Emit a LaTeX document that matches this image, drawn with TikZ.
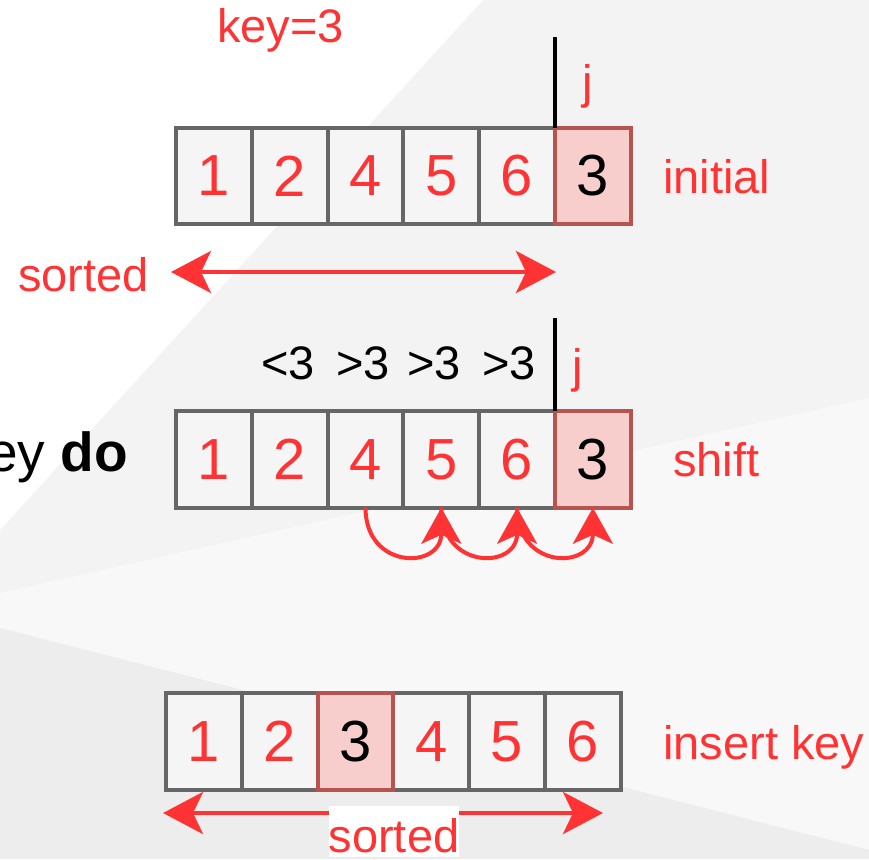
\documentclass[tikz,border=0pt]{standalone}
\usepackage{fontspec}
\setmainfont{Liberation Sans}
\usetikzlibrary{arrows.meta}

\definecolor{hred}{HTML}{FF3333}
\definecolor{cellgray}{HTML}{666666}
\definecolor{cellfill}{HTML}{F5F5F5}
\definecolor{keyfill}{HTML}{F8CECC}
\definecolor{keyline}{HTML}{B85450}
\definecolor{bgbase}{HTML}{F3F3F3}
\definecolor{bglight}{HTML}{F8F8F8}
\definecolor{bgdark}{HTML}{EDEDED}

\tikzset{
  cell/.style={draw=cellgray, fill=cellfill, line width=4pt,
    minimum width=75.8pt, minimum height=96.5pt, inner sep=0pt,
    outer sep=0pt, text=hred, font=\fontsize{58}{60}\selectfont},
  keycell/.style={cell, draw=keyline, fill=keyfill, text=black},
  lbl/.style={text=hred, inner sep=0pt, font=\fontsize{47}{50}\selectfont},
  cmp/.style={lbl, text=black},
  jline/.style={draw=black, line width=3.5pt},
  sortarrow/.style={draw=hred, line width=4pt,
    {Stealth[length=40pt,width=42pt,inset=10pt]}-{Stealth[length=40pt,width=42pt,inset=10pt]}},
  shiftarrow/.style={draw=hred, line width=4pt,
    -{Stealth[length=36pt,width=40pt,inset=9pt]}}
}

\begin{document}
\begin{tikzpicture}
  \useasboundingbox (0pt,0pt) rectangle (869pt,-859pt);
  \clip (0pt,0pt) rectangle (869pt,-859pt);

  %% background
  \fill[bgbase] (0pt,0pt) rectangle (869pt,-859pt);
  \fill[white] (0pt,0pt) -- (483pt,0pt) -- (0pt,-530pt) -- cycle;
  \fill[bglight] (0pt,-593pt) -- (869pt,-398pt) -- (869pt,-850pt) -- (0pt,-628pt) -- cycle;
  \fill[bgdark] (0pt,-628pt) -- (869pt,-850pt) -- (869pt,-859pt) -- (0pt,-859pt) -- cycle;

  \node[lbl, anchor=base west] (key) at (217pt,-43pt) {key=3};
  \node[cmp, anchor=base east, font=\fontsize{55}{58}\selectfont] (loop) at (128pt,-471pt) {ey \textbf{do}};

  %% initial
  \begin{scope}[shift={(176pt,-176pt)}]
    \node[cell] (a1) at (37.9pt,0pt) {1};
    \node[cell] (a2) at (113.7pt,0pt) {2};
    \node[cell] (a3) at (189.5pt,0pt) {4};
    \node[cell] (a4) at (265.3pt,0pt) {5};
    \node[cell] (a5) at (341.1pt,0pt) {6};
    \node[keycell] (a6) at (416.9pt,0pt) {3};
  \end{scope}
  \coordinate (jtop1) at ([yshift=91pt]a5.north east);
  \draw[jline] (jtop1) -- (a5.north east);
  \node[lbl, anchor=base] (j1) at (588pt,-98pt) {j};
  \node[lbl, anchor=base west] (initial) at (663pt,-193pt) {initial};
  \coordinate (sl1) at (171pt,-272pt);
  \coordinate (sr1) at (556pt,-272pt);
  \draw[sortarrow] (sl1) -- (sr1);
  \node[lbl, fill=white, anchor=base west] (sorted1) at (18pt,-291pt) {sorted};

  %% shift
  \begin{scope}[shift={(176pt,-459.5pt)}]
    \node[cell] (b1) at (37.9pt,0pt) {1};
    \node[cell] (b2) at (113.7pt,0pt) {2};
    \node[cell] (b3) at (189.5pt,0pt) {4};
    \node[cell] (b4) at (265.3pt,0pt) {5};
    \node[cell] (b5) at (341.1pt,0pt) {6};
    \node[keycell] (b6) at (416.9pt,0pt) {3};
  \end{scope}
  \node[cmp, anchor=base] (lt2) at (288pt,-379pt) {<3};
  \node[cmp, anchor=base] (gt3) at (363pt,-379pt) {>3};
  \node[cmp, anchor=base] (gt4) at (434pt,-379pt) {>3};
  \node[cmp, anchor=base] (gt5) at (509pt,-379pt) {>3};
  \coordinate (jtop2) at ([yshift=93pt]b5.north east);
  \draw[jline] (jtop2) -- (b5.north east);
  \node[lbl, anchor=base] (j2) at (578pt,-382pt) {j};
  \node[lbl, anchor=base west] (shift) at (673pt,-476pt) {shift};

  \draw[shiftarrow] (b3.south) to[out=-90,in=-90,looseness=2.1] (b4.south); %% 4 -> 5
  \draw[shiftarrow] (b4.south) to[out=-90,in=-90,looseness=2.1] (b5.south); %% 5 -> 6
  \draw[shiftarrow] (b5.south) to[out=-90,in=-90,looseness=2.1] (b6.south); %% 6 -> 3

  %% insert key
  \begin{scope}[shift={(166pt,-741.5pt)}]
    \node[cell] (c1) at (37.9pt,0pt) {1};
    \node[cell] (c2) at (113.7pt,0pt) {2};
    \node[cell] (c4) at (265.3pt,0pt) {4};
    \node[cell] (c5) at (341.1pt,0pt) {5};
    \node[cell] (c6) at (416.9pt,0pt) {6};
    \node[keycell] (c3) at (189.5pt,0pt) {3};
  \end{scope}
  \node[lbl, anchor=base west] (insert) at (663pt,-759pt) {insert key};
  \coordinate (sl3) at (163pt,-813pt);
  \coordinate (sr3) at (603pt,-813pt);
  \draw[sortarrow] (sl3) -- (sr3);
  \node[lbl, fill=white, text height=46pt, text depth=5pt, anchor=base] (sorted3) at (394pt,-852pt) {sorted};

\end{tikzpicture}
\end{document}
